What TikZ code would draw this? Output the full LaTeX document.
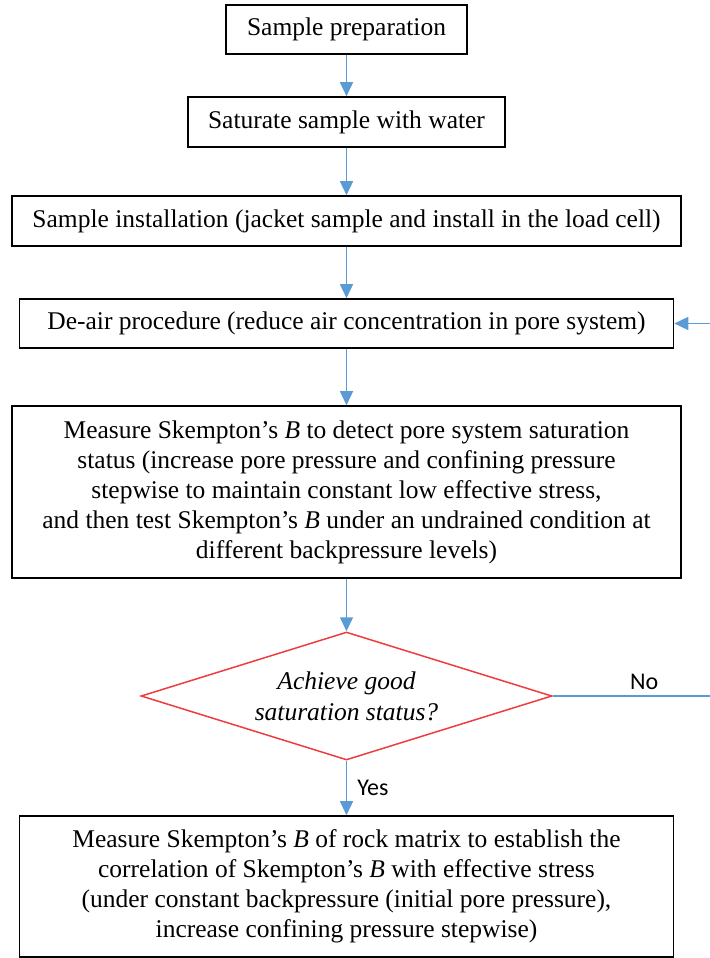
\documentclass[tikz,border=0pt]{standalone}
\usepackage{fontspec}
\setmainfont{Liberation Serif}
\newfontfamily\labelfont{Carlito}
\usetikzlibrary{arrows.meta,shapes.geometric}

\definecolor{arrowColor}{RGB}{91,155,213}
\definecolor{decisionColor}{RGB}{240,60,60}

\begin{document}
\begin{tikzpicture}[x=0.5pt,y=-0.5pt,
  box/.style={draw,line width=0.8pt,align=center,inner sep=0pt,font=\fontsize{12.75}{15}\selectfont},
  decision/.style={diamond,draw=decisionColor,line width=0.75pt,align=center,inner sep=0pt,
    shape aspect=3.2,minimum width=205.5pt,minimum height=64pt,font=\fontsize{12.75}{15.5}\selectfont\itshape},
  flow/.style={draw=arrowColor,line width=0.75pt,-{Triangle[length=7pt,width=6.5pt]}},
  answer/.style={font=\labelfont\fontsize{12}{14}\selectfont,inner sep=0pt}]
  \useasboundingbox (0,0) rectangle (709,958);
  % Steps
  \node[box,minimum width=120.5pt,minimum height=24.5pt] (prep) at (346.5,29.5) {Sample preparation};
  \node[box,minimum width=158.5pt,minimum height=25pt] (saturate) at (346.5,122) {Saturate sample with water};
  \node[box,minimum width=334.5pt,minimum height=25pt] (install) at (346.5,221)
    {Sample installation (jacket sample and install in the load cell)};
  \node[box,minimum width=327pt,minimum height=24.5pt] (deair) at (346.5,323.5)
    {De-air procedure (reduce air concentration in pore system)};
  \node[box,minimum width=334.5pt,minimum height=86pt] (measureB) at (346.5,492)
    {Measure Skempton’s \textit{B} to detect pore system saturation\\
     status (increase pore pressure and confining pressure\\
     stepwise to maintain constant low effective stress,\\
     and then test Skempton’s \textit{B} under an undrained condition at\\
     different backpressure levels)};
  \node[decision] (check) at (346.5,696) {Achieve good\\saturation status?};
  \node[box,minimum width=327pt,minimum height=70.5pt] (matrix) at (346.5,886.5)
    {Measure Skempton’s \textit{B} of rock matrix to establish the\\
     correlation of Skempton’s \textit{B} with effective stress\\
     (under constant backpressure (initial pore pressure),\\
     increase confining pressure stepwise)};
  % Loop back (runs along the cut-off right edge)
  \coordinate (loopLow) at (716,696);
  \coordinate (loopHigh) at (716,323.5);
  % Arrows
  \draw[flow] (prep) -- (saturate);
  \draw[flow] (saturate) -- (install);
  \draw[flow] (install) -- (deair);
  \draw[flow] (deair) -- (measureB);
  \draw[flow] (measureB) -- (check);
  \draw[flow] (check) -- node[answer,right,xshift=5pt]{Yes} (matrix);
  \draw[flow] (check.east) -- node[answer,pos=0.56,above,yshift=3pt]{No} (loopLow) -- (loopHigh) -- (deair.east);
\end{tikzpicture}
\end{document}
